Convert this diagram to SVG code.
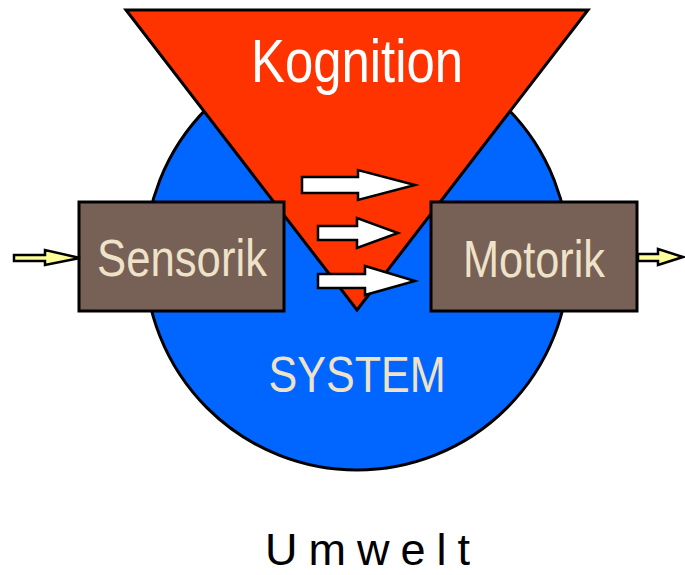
<svg xmlns="http://www.w3.org/2000/svg" width="685" height="575" viewBox="0 0 685 575">
<style>
.stroke{stroke:#000;stroke-width:3;stroke-linejoin:miter}
.box{fill:#776055}
.lbl{font-family:"Liberation Sans",Arial,sans-serif;text-anchor:middle}
.cream{fill:#eee2c8}
.warrow{fill:#fff;stroke:#000;stroke-width:2.5}
.yarrow{fill:#ffff99;stroke:#000;stroke-width:2.5}
</style>
<rect width="685" height="575" fill="#fff"/>
<g id="system">
<circle cx="357" cy="258" r="212" fill="#0066ff" class="stroke"/>
<text class="lbl cream" x="357" y="392" font-size="50" textLength="177" lengthAdjust="spacingAndGlyphs">SYSTEM</text>
</g>
<g id="kognition">
<polygon points="126,10 588,10 357,310" fill="#ff3300" class="stroke"/>
<text class="lbl" x="357" y="82" font-size="62" fill="#fff" textLength="212" lengthAdjust="spacingAndGlyphs">Kognition</text>
</g>
<g id="sensorik">
<rect x="79" y="202" width="205" height="109" class="box stroke"/>
<text class="lbl cream" x="182" y="276" font-size="52" textLength="170" lengthAdjust="spacingAndGlyphs">Sensorik</text>
</g>
<g id="motorik">
<rect x="431" y="202" width="206" height="109" class="box stroke"/>
<text class="lbl cream" x="534" y="277" font-size="52" textLength="142" lengthAdjust="spacingAndGlyphs">Motorik</text>
</g>
<g id="connectors">
<polygon class="warrow" points="302,177 358,177 358,170 415,185 358,200 358,193 302,193"/>
<polygon class="warrow" points="318,226 357,226 357,218 398,233 357,248 357,240 318,240"/>
<polygon class="warrow" points="318,274 365,274 365,266 415,281 365,295 365,288 318,288"/>
<polygon class="yarrow" points="14,255 45,255 45,250 80,258 45,265 45,261 14,261"/>
<polygon class="yarrow" points="638,254 658,254 658,249 683,257 658,265 658,261 638,261"/>
</g>
<g id="umwelt">
<text x="265" y="565" font-family="Liberation Sans,Arial,sans-serif" font-size="45" letter-spacing="11">Umwelt</text>
</g>
</svg>
